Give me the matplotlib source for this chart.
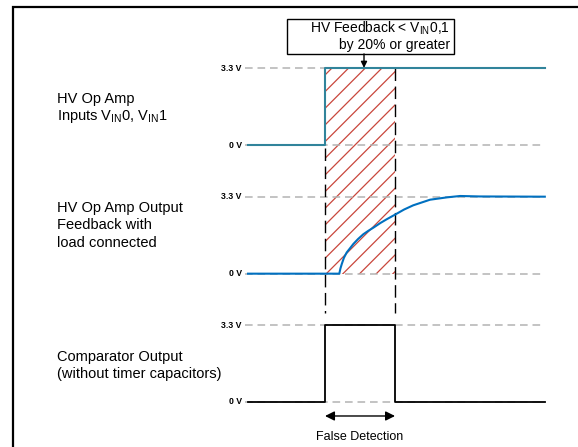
import numpy as np
import matplotlib
matplotlib.use('Agg')
import matplotlib.pyplot as plt
from matplotlib.patches import Rectangle

plt.rcParams['font.family'] = ['Liberation Sans', 'DejaVu Sans']
plt.rcParams['mathtext.fontset'] = 'custom'
plt.rcParams['mathtext.rm'] = 'Liberation Sans'
plt.rcParams['lines.scale_dashes'] = False
plt.rcParams['hatch.linewidth'] = 0.9

# time in units of the false-detection window, volts per trace
t_start, t_end = -1.1, 3.14
v_high = 3.3
offsets = [11.0, 5.5, 0.0]   # trace baselines (stacked)

t_in = [t_start, 0.0, 0.0, t_end]
v_in = [0, 0, 3.3, 3.3]

t_fb = [t_start, 0.204, 0.22, 0.239, 0.27, 0.31, 0.36, 0.404, 0.47, 0.547,
        0.62, 0.69, 0.79, 0.88, 1.0, 1.13, 1.26, 1.5, 1.74, 1.93, 2.21, t_end]
v_fb = [0, 0, 0.22, 0.41, 0.68, 0.91, 1.10, 1.27, 1.48, 1.69,
        1.84, 1.97, 2.17, 2.33, 2.53, 2.75, 2.93, 3.17, 3.27, 3.33, 3.31, 3.30]

t_cmp = [t_start, 0.0, 0.0, 1.0, 1.0, t_end]
v_cmp = [0, 0, 3.3, 3.3, 0, 0]

labels = [["HV Op Amp", r"Inputs V$_{\mathrm{IN}}$0, V$_{\mathrm{IN}}$1"],
          ["HV Op Amp Output", "Feedback with", "load connected"],
          ["Comparator Output", "(without timer capacitors)"]]

fig = plt.figure(figsize=(5.78, 4.47), dpi=100)
ax = fig.add_axes([0, 0, 1, 1])
ax.set_xlim(-4.643, 3.614)
ax.set_ylim(-1.929, 17.23)
ax.axis('off')

# frame (top and left rule)
ax.plot([0.0225, 0.0225, 1.0], [0.0, 0.984, 0.984], transform=ax.transAxes,
        color='black', lw=1.6, solid_joinstyle='miter', clip_on=False)

# reference levels + tick labels
for off in offsets:
    for lvl, txt in [(0, '0 V'), (v_high, '3.3 V')]:
        ax.plot([-1.143, t_end], [off + lvl] * 2, color='#b3b3b3', lw=1.1,
                dashes=(5.5, 3.5))
        ax.text(-1.186, off + lvl, txt, ha='right', va='center',
                fontsize=6.3, fontweight='bold')

# hatched false-detection window
ax.add_patch(Rectangle((0, offsets[1]), 1.0, offsets[0] + v_high - offsets[1],
                       fill=False, hatch='//', edgecolor='#c9473c', lw=0,
                       zorder=1))

# window boundaries
ax.plot([0, 0], [10.89, 3.81], color='black', lw=1.0, dashes=(9, 4), zorder=2)
ax.plot([1, 1], [14.32, 3.81], color='black', lw=1.0, dashes=(9, 4), zorder=2)

# traces
ax.plot(t_in, np.array(v_in) + offsets[0], color='#31849b', lw=1.5, zorder=3)
ax.plot(t_fb, np.array(v_fb) + offsets[1], color='#0070c0', lw=1.5, zorder=3)
ax.plot(t_cmp, np.array(v_cmp) + offsets[2], color='black', lw=1.3, zorder=3)

# trace labels
label_tops = [12.99, 8.32, 1.93]
for lines, y0 in zip(labels, label_tops):
    for i, s in enumerate(lines):
        ax.text(-3.829, y0 - i * 0.75, s, ha='left', va='center', fontsize=10.5)

# callout box
ax.add_patch(Rectangle((-0.543, 14.92), 2.386, 1.5, fill=False,
                       edgecolor='black', lw=1.0, zorder=4))
ax.text(1.786, 16.03, r"HV Feedback < V$_{\mathrm{IN}}$0,1", ha='right',
        va='center', fontsize=10)
ax.text(1.786, 15.30, "by 20% or greater", ha='right', va='center', fontsize=10)
ax.annotate('', xy=(0.557, 14.32), xytext=(0.557, 14.92),
            arrowprops=dict(arrowstyle='-|>', color='black', lw=1.0,
                            mutation_scale=9, shrinkA=0, shrinkB=0))

# false detection span
ax.annotate('', xy=(0.0, -0.6), xytext=(1.0, -0.6),
            arrowprops=dict(arrowstyle='<|-|>', color='black', lw=1.0,
                            mutation_scale=14, shrinkA=0, shrinkB=0))
ax.text(0.5, -1.5, "False Detection", ha='center', va='center', fontsize=9)

fig.savefig('out.png', dpi=100)
